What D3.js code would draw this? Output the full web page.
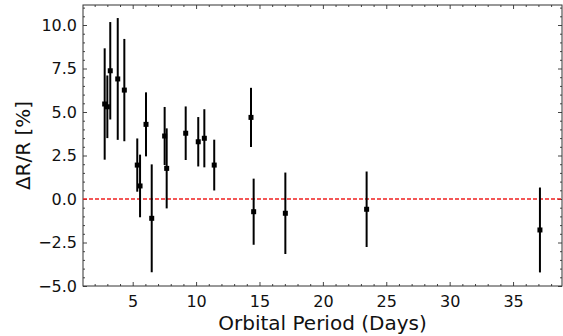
<!DOCTYPE html>
<html>
<head>
<meta charset="utf-8">
<script src="https://cdn.jsdelivr.net/npm/d3@7"></script>
<style>
  body { margin: 0; background: #fff; }
  text { font-family: "DejaVu Sans", sans-serif; }
</style>
</head>
<body>
<div id="chart"></div>
<script>
// values
const period = [2.79, 3.0, 3.23, 3.82, 4.34, 5.36, 5.58, 6.05, 6.5, 7.52, 7.68, 9.18, 10.17, 10.65, 11.43, 14.33, 14.54, 17.04, 23.45, 37.12];
const deltaR = [5.46, 5.30, 7.37, 6.9, 6.26, 1.95, 0.75, 4.29, -1.11, 3.62, 1.76, 3.78, 3.29, 3.49, 1.95, 4.69, -0.73, -0.82, -0.59, -1.78];
const deltaErr = [3.2, 1.8, 2.8, 3.5, 2.94, 1.53, 1.8, 1.84, 3.1, 1.67, 2.3, 1.54, 1.42, 1.67, 1.46, 1.7, 1.9, 2.34, 2.17, 2.44];

const xTicks = [5, 10, 15, 20, 25, 30, 35];
const yTicks = [-5, -2.5, 0, 2.5, 5, 7.5, 10];
const xTitle = "Orbital Period (Days)";
const yTitle = "ΔR/R [%]";

var margin = { top: 5, right: 1, bottom: 50, left: 83 };
var width = 563 - margin.left - margin.right;
var height = 336 - margin.top - margin.bottom;

var svg = d3.select("#chart").append("svg")
    .attr("width", 563)
    .attr("height", 336)
    .append("g")
    .attr("transform", "translate(" + margin.left + "," + margin.top + ")");

const x = d3.scaleLinear()
    .domain([1.08, 38.86])
    .range([0, width]);

const y = d3.scaleLinear()
    .domain([-5, 11.15])
    .range([height, 0]);

const fmt = d => (d < 0 ? "\u2212" : "") + Math.abs(d).toFixed(1);

// minor ticks (inward, all four sides)
const xMinor = d3.range(2, 39, 1).filter(d => d % 5 !== 0);
const yMinor = d3.range(-4.5, 11.1, 0.5).filter(d => Math.abs(d / 2.5 - Math.round(d / 2.5)) > 1e-6);

function tickAxis(axisFn, scale, vals, len, fmtFn, transform) {
    const g = svg.append("g")
        .attr("transform", transform)
        .call(axisFn(scale).tickValues(vals).tickSizeInner(-len).tickSizeOuter(0).tickPadding(6).tickFormat(fmtFn));
    g.select(".domain").remove();
    g.selectAll("line").attr("stroke", "#444");
    return g;
}

tickAxis(d3.axisBottom, x, xMinor, 2, "", `translate(0,${height})`).selectAll("text").remove();
tickAxis(d3.axisTop, x, xMinor, 2, "", "translate(0,0)").selectAll("text").remove();
tickAxis(d3.axisLeft, y, yMinor, 2, "", "translate(0,0)").selectAll("text").remove();
tickAxis(d3.axisRight, y, yMinor, 2, "", `translate(${width},0)`).selectAll("text").remove();

// major ticks
tickAxis(d3.axisBottom, x, xTicks, 4, d3.format("d"), `translate(0,${height})`)
    .selectAll("text")
    .attr("y", 10)
    .attr("fill", "#111")
    .style("font-size", "16px");
tickAxis(d3.axisTop, x, xTicks, 4, "", "translate(0,0)").selectAll("text").remove();
tickAxis(d3.axisLeft, y, yTicks, 4, fmt, "translate(0,0)")
    .selectAll("text")
    .attr("x", -6)
    .attr("fill", "#111")
    .style("font-size", "16px");
tickAxis(d3.axisRight, y, yTicks, 4, "", `translate(${width},0)`).selectAll("text").remove();

// frame
svg.append("rect")
    .attr("x", 0)
    .attr("y", 0)
    .attr("width", width)
    .attr("height", height)
    .attr("fill", "none")
    .attr("stroke", "#333")
    .attr("stroke-width", 1);

// zero line
svg.append("line")
    .attr("x1", 0)
    .attr("x2", width)
    .attr("y1", y(0))
    .attr("y2", y(0))
    .attr("stroke", "#f02020")
    .attr("stroke-width", 1.5)
    .attr("stroke-dasharray", "4,2");

// error bars
svg.selectAll(".err")
    .data(period)
    .enter()
    .append("line")
    .attr("class", "err")
    .attr("x1", d => x(d))
    .attr("x2", d => x(d))
    .attr("y1", (d, i) => y(deltaR[i] + deltaErr[i]))
    .attr("y2", (d, i) => y(deltaR[i] - deltaErr[i]))
    .attr("stroke", "#000")
    .attr("stroke-width", 2);

// markers
svg.selectAll(".pt")
    .data(period)
    .enter()
    .append("rect")
    .attr("class", "pt")
    .attr("x", d => x(d) - 2.5)
    .attr("y", (d, i) => y(deltaR[i]) - 2.5)
    .attr("width", 5)
    .attr("height", 5)
    .attr("fill", "#000");

// axis titles
svg.append("text")
    .attr("x", width / 2)
    .attr("y", height + 44)
    .attr("text-anchor", "middle")
    .attr("fill", "#111")
    .style("font-size", "20px")
    .text(xTitle);

svg.append("text")
    .attr("transform", "rotate(-90)")
    .attr("x", -height / 2)
    .attr("y", -53)
    .attr("text-anchor", "middle")
    .attr("fill", "#111")
    .style("font-size", "20px")
    .text(yTitle);
</script>
</body>
</html>
